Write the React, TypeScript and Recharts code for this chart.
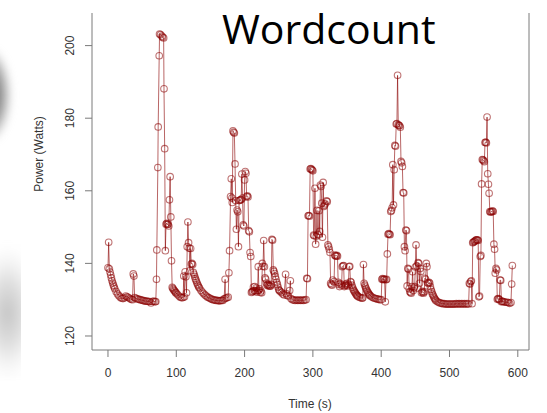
import { Line, LineChart, ReferenceLine, XAxis, YAxis } from 'recharts'

// [time (s), power (W)], grouped by phase of the run
const idleStart: [number, number][] = [
  [0, 138.8], [1, 145.8], [2, 138.5], [3, 137.6], [4, 136.8], [5, 136], [6, 135.2], [7, 134.6],
  [8, 134], [9, 133.5], [10, 133], [12, 132.2], [14, 131.6], [16, 131.1], [18, 130.7], [20, 130.4],
  [22, 130.3], [24, 130.5], [26, 131], [28, 130.8], [30, 130.6], [32, 130.3], [34, 130.1], [36, 130],
  [37, 137.1], [38, 136.5], [39, 130.6], [41, 130.4], [43, 130.2], [45, 130.1], [47, 130], [49, 129.9],
  [51, 129.8], [53, 129.7], [55, 129.6], [57, 129.6], [59, 129.5], [61, 129.5], [63, 129.1], [65, 129.5],
  [67, 129.6], [69, 129.4], [70, 129.5],
]

const burst1: [number, number][] = [
  [71, 135.6], [71.5, 143.7], [73, 166.4], [73.5, 177.6], [75, 197.2], [75.5, 203.2], [77, 203],
  [79, 202.6], [80, 202.3], [81.5, 202.1], [82, 188.1], [83, 171.6], [84, 143.5], [85, 150.8],
  [86, 151], [87, 150.7], [88, 150.8], [89, 150.3], [90, 157.5], [91, 163.9], [92, 152.8], [93, 140.7],
  [94, 133.4], [95, 133.1], [96, 132.8], [97, 132.5], [98, 132.3], [99, 132], [100, 131.8], [102, 131.4],
  [104, 131], [106, 130.7], [108, 130.5], [110, 130.6],
]

const burst2: [number, number][] = [
  [111, 136.5], [112, 130.8], [113, 137.7], [114, 136.3], [115, 131.9], [116, 144.6], [117, 151.4],
  [118, 145.7], [119, 144.2], [120, 138], [121, 144.1], [122, 139.8], [123, 140], [124, 139.7],
  [125, 137.5], [126, 137], [127, 136.4], [128, 135.8], [129, 135.3], [130, 134.8], [131, 134.3],
  [132, 133.9], [133, 133.5], [134, 133.2], [136, 132.6], [138, 132.1], [140, 131.7], [142, 131.3],
  [144, 131], [146, 130.7], [148, 130.5], [150, 130.3], [152, 130.1], [154, 130], [156, 129.9],
  [158, 129.8], [160, 129.8], [162, 129.7], [164, 129.7], [166, 129.8], [168, 129.8], [170, 130.2],
]

const burst3: [number, number][] = [
  [171.5, 135.6], [172, 130.4], [174, 130.5], [176, 130.7], [177, 137.4], [178, 143.5], [179.5, 158.4],
  [180.5, 163.3], [181.5, 158], [182, 156.8], [183, 176.5], [184, 176.1], [185, 175.9], [186, 167.4],
  [187, 157.3], [188, 149.4], [189, 154.7], [190, 154.2], [191, 144.6], [192, 157.3], [193, 157.4],
  [194, 157.5], [195, 157.6], [196, 164.6], [197, 158], [198, 150.6], [199, 150.3], [200, 163],
  [201, 165.3], [202, 164.8], [203, 158.4], [204, 158.6], [205, 158.3], [206, 149], [207, 148.7],
  [208, 143], [209, 141.9], [210, 132], [211, 132.2],
]

const tail3: [number, number][] = [
  [212, 132.3], [213, 133.5], [214, 132.5], [215, 133.6], [216, 132.4], [217, 133.2], [218, 132.1],
  [219, 132.5], [220, 139.1], [221, 132.6], [222, 133], [223, 132], [224, 132.4], [225, 131.9],
  [226, 140], [227, 139.2], [228, 146.3], [229, 139.1], [230, 136], [231, 135.6], [232, 134.6],
  [233, 134], [234, 134.2], [235, 133.8], [236, 134], [237, 133.7], [238, 133.8], [239, 134.2],
  [240, 146.6], [241, 146.4], [242, 138.2], [243, 137.8], [244, 137.2], [245, 136.4], [246, 135.6],
  [247, 134.8], [248, 134.2], [249, 133.5], [250, 132.8], [251, 132.5], [252, 132.3], [254, 132],
  [256, 131.6], [258, 131.3], [260, 137], [261, 131.7], [262, 131.2], [264, 131], [266, 132.5],
  [267, 135.2], [268, 130.3], [270, 130], [272, 129.9], [274, 129.8], [276, 129.9], [278, 129.8],
  [280, 129.9], [282, 129.8], [284, 129.9], [286, 129.8], [288, 129.9], [290, 130],
]

const burst4: [number, number][] = [
  [291, 135.9], [292, 135.8], [293, 153.1], [294, 153.2], [295, 153], [296, 166], [297, 166.1],
  [298, 165.9], [299, 165.7], [300, 165.5], [301, 147.8], [302, 147.6], [303, 160.7], [304, 145.3],
  [305, 147.5], [306, 154.6], [307, 148], [308, 147.8], [309, 154.5], [310, 148.8], [311, 161.6],
  [312, 161.2], [313, 156.6], [314, 147.2], [315, 162.3], [316, 155.7], [317, 156], [318, 156.4],
  [320, 157.2], [321, 157], [322, 145.1], [323, 144.6], [324, 143.9], [325, 143], [326, 134.5],
  [327, 134.2], [328, 134], [329, 135.4], [331, 135], [332, 142.3], [333, 142.1], [334, 142],
  [335, 142.2], [336, 142], [337, 134.8], [338, 134.2], [339, 133.6], [340, 134.4], [342, 134],
  [343, 139.1], [344, 139.3], [345, 139.4], [346, 133.6], [347, 133.9], [348, 134.3], [349, 134],
  [350, 134.5], [351, 133.8], [352, 134.2], [353, 139.1], [354, 139.2], [355, 135], [356, 134.8],
  [357, 134], [358, 133.4], [359, 132.9], [360, 132.5],
]

const tail4: [number, number][] = [
  [361, 132.2], [362, 131.9], [363, 131.6], [364, 131.3], [365, 131.1], [366, 130.9], [368, 130.7],
  [370, 130.5], [372, 130.4], [373, 130.5], [374, 139.7], [375, 134.5], [376, 134], [377, 133.5],
  [378, 133], [379, 132.6], [380, 132.2], [381, 131.9], [382, 131.6], [383, 131.3], [384, 131.1],
  [386, 130.8], [388, 130.6], [390, 130.4], [392, 130.3], [394, 130.2], [396, 130.1], [398, 130],
  [400, 130], [401, 135.6], [402, 135.8], [403, 135.5], [404, 135.7], [405, 135.6], [406, 129.4],
  [407, 135.5], [408, 135.6],
]

const burst5: [number, number][] = [
  [409, 142.6], [410, 148], [411, 148.2], [412, 148], [413, 147.9], [414, 154.3], [415, 154.6],
  [416, 155.3], [417, 167.2], [418, 156.1], [419, 165.8], [420, 172.5], [421, 172.3], [422, 178.4],
  [423, 178.5], [424, 191.8], [425, 178.2], [426, 178], [427, 177.9], [428, 177.5], [429, 168.1],
  [430, 167.7], [431, 166.7], [432, 159.5], [433, 159.4], [434, 144.6], [435, 143.5], [436, 149.2],
  [437, 149], [438, 133.8], [439, 138.6], [440, 138.4], [441, 133], [442, 132.2], [443, 132],
  [444, 131.8], [445, 133.6], [446, 137.7], [447, 132.5], [448, 133.2], [449, 133.6], [450, 139],
  [451, 145.1], [452, 139.3], [453, 133.2], [454, 140.2], [455, 140], [456, 134.5], [457, 138.6],
  [458, 137.8], [459, 131.9], [460, 132.3], [461, 132], [462, 131.8], [463, 132.2], [464, 135.9],
  [465, 135.6], [466, 140], [467, 139.1], [468, 134.7], [469, 134.5], [470, 134.8], [471, 134.6],
  [472, 133.6], [473, 132.8], [474, 132.2], [475, 131.6],
]

const idleMid: [number, number][] = [
  [476, 131.2], [477, 130.8], [478, 130.4], [479, 130.1], [480, 129.8], [482, 129.5], [484, 129.3],
  [486, 129.1], [488, 129], [490, 128.9], [492, 128.9], [494, 128.8], [496, 128.8], [498, 128.8],
  [500, 128.8], [502, 128.8], [504, 128.8], [506, 128.8], [508, 128.8], [510, 128.9], [512, 128.8],
  [514, 128.9], [516, 128.8], [518, 128.9], [520, 128.8], [522, 128.9], [524, 128.8], [526, 128.9],
  [528, 128.8],
]

const burst6: [number, number][] = [
  [529, 134.5], [530, 134.3], [531, 135], [532, 135.2], [533, 128.9], [534, 145.7], [535, 145.8],
  [536, 146], [537, 146.1], [538, 146.3], [539, 146.5], [540, 146.4], [541, 146.5], [542, 146.3],
  [543, 130.8], [544, 131], [545, 141.9], [546, 142.2], [547, 161.9], [548, 168.6], [549, 168.5],
  [550, 168.3], [551, 168], [552, 173.3], [553, 173.4], [554, 173.2], [555, 180.3], [556, 164.7],
  [557, 161.8], [558, 159.3], [559, 154.3], [560, 154.1], [561, 154.3], [562, 154.2], [563, 154.5],
  [564, 154.3], [565, 145.3], [566, 143.9], [567, 137.3], [568, 138.6], [569, 138.2], [570, 130.1],
  [571, 130.3], [572, 130.2], [573, 130], [574, 135.4], [575, 135.3], [576, 129.4], [577, 129.6],
  [578, 129.5], [580, 129.4], [582, 129.3], [584, 129.3], [586, 129.2], [588, 129], [590, 129.2],
  [591, 134.3], [592, 139.4],
]

const xTicks = [0, 100, 200, 300, 400, 500, 600]
const yTicks = [120, 140, 160, 180, 200]

const series = [
  idleStart, burst1, burst2, burst3, tail3, burst4, tail4, burst5, idleMid, burst6,
]
  .flat()
  .map(([t, w]) => ({ t, w }))

const RED = '#8b0000'
const AXIS = '#7a7a7a'
const TEXT = '#333'
const FONT = '"Liberation Sans", Arial, sans-serif'

function XTick({ x, payload }: any) {
  return (
    <text x={x} y={373} textAnchor="middle" dominantBaseline="central" fill={TEXT} fontSize={12} fontFamily={FONT}>
      {payload.value}
    </text>
  )
}

function YTick({ y, payload }: any) {
  return (
    <text
      x={70}
      y={y}
      transform={`rotate(-90 70 ${y})`}
      textAnchor="middle"
      dominantBaseline="central"
      fill={TEXT}
      fontSize={12}
      fontFamily={FONT}
    >
      {payload.value}
    </text>
  )
}

export default function App() {
  return (
    <div style={{ position: 'absolute', left: 0, top: 0, width: 547, height: 413, background: '#fff', overflow: 'hidden' }}>
      {/* blurred slide background shapes at the left edge */}
      <div
        style={{
          position: 'absolute', left: -30, top: 50, width: 40, height: 90, borderRadius: '50%',
          background: 'radial-gradient(ellipse at 40% 50%, #555 0%, #999 45%, rgba(255,255,255,0) 80%)',
          filter: 'blur(4px)',
        }}
      />
      <div
        style={{
          position: 'absolute', left: 0, top: 235, width: 21, height: 150, overflow: 'hidden',
        }}
      >
        <div
          style={{
            position: 'absolute', left: -25, top: 0, width: 65, height: 150,
            background: 'radial-gradient(ellipse 50% 45% at 50% 52%, #c4c4c4 0%, #dedede 45%, #f4f4f4 75%, #fff 100%)',
            filter: 'blur(5px)',
          }}
        />
      </div>
      <div style={{ position: 'absolute', left: 0, top: 0 }}>
        <LineChart width={547} height={413} data={series} margin={{ top: 13, right: 18, bottom: 0, left: 0 }}>
          <XAxis
            type="number"
            dataKey="t"
            domain={[-23.4, 616.4]}
            ticks={xTicks}
            allowDataOverflow
            height={63}
            tickSize={7}
            stroke={AXIS}
            tick={<XTick />}
            label={{
              content: () => (
                <text x={310} y={404} textAnchor="middle" dominantBaseline="central" fill={TEXT} fontSize={12} fontFamily={FONT}>
                  Time (s)
                </text>
              ),
            }}
          />
          <YAxis
            type="number"
            domain={[116.14, 208.98]}
            ticks={yTicks}
            allowDataOverflow
            width={92}
            tickSize={7}
            stroke={AXIS}
            tick={<YTick />}
            label={{
              content: () => (
                <text
                  x={39}
                  y={154}
                  transform="rotate(-90 39 154)"
                  textAnchor="middle"
                  dominantBaseline="central"
                  fill={TEXT}
                  fontSize={12}
                  fontFamily={FONT}
                >
                  Power (Watts)
                </text>
              ),
            }}
          />
          <ReferenceLine x={616.4} stroke={AXIS} ifOverflow="visible" />
          <Line
            type="linear"
            dataKey="w"
            stroke={RED}
            strokeOpacity={0.6}
            strokeWidth={1}
            dot={{ r: 3.3, stroke: RED, strokeOpacity: 0.55, strokeWidth: 1.1, fill: 'none' }}
            activeDot={false}
            isAnimationActive={false}
          />
        </LineChart>
      </div>
      <div
        style={{
          position: 'absolute', left: 222, top: 0, fontFamily: '"Open Sans", sans-serif', fontSize: 41,
          lineHeight: 'normal', color: '#000', whiteSpace: 'nowrap',
        }}
      >
        Wordcount
      </div>
    </div>
  )
}
